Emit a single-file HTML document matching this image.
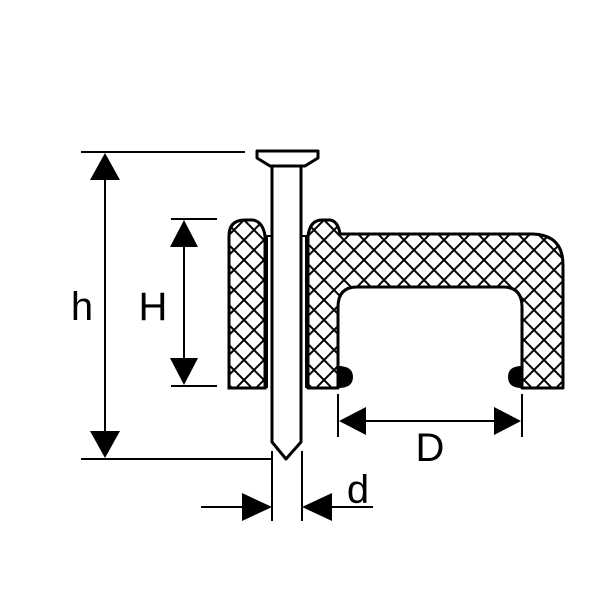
<!DOCTYPE html>
<html><head><meta charset="utf-8"><style>
html,body{margin:0;padding:0;background:#fff;}
svg{display:block;}
text{font-family:"Liberation Sans",sans-serif;fill:#000;}
</style></head><body>
<svg width="611" height="600" viewBox="0 0 611 600" xmlns="http://www.w3.org/2000/svg">
<defs>
<pattern id="hx" patternUnits="userSpaceOnUse" width="20" height="20" x="4" y="0">
<path d="M0,0 L20,20 M20,0 L0,20" stroke="#000" stroke-width="2"/>
</pattern>
</defs>
<g stroke="#000" stroke-width="2" fill="none">
<line x1="81" y1="152" x2="245" y2="152"/>
<line x1="81" y1="459" x2="272" y2="459"/>
<line x1="105" y1="175" x2="105" y2="435"/>
<line x1="171" y1="219" x2="217" y2="219"/>
<line x1="171" y1="386" x2="217" y2="386"/>
<line x1="184" y1="240" x2="184" y2="365"/>
<line x1="338" y1="394" x2="338" y2="437"/>
<line x1="522" y1="394" x2="522" y2="437"/>
<line x1="360" y1="421" x2="500" y2="421"/>
<line x1="272" y1="451" x2="272" y2="521"/>
<line x1="302" y1="451" x2="302" y2="521"/>
<line x1="201" y1="507" x2="245" y2="507"/>
<line x1="330" y1="507" x2="373" y2="507"/>
</g>
<g fill="#000">
<polygon points="105,153 90,180 120,180"/>
<polygon points="105,458 90,431 120,431"/>
<polygon points="184,220 170,247 198,247"/>
<polygon points="184,385 170,358 198,358"/>
<polygon points="339,421 366,407 366,435"/>
<polygon points="521,421 494,407 494,435"/>
<polygon points="272,507 242,493 242,521"/>
<polygon points="302,507 332,493 332,521"/>
</g>
<path d="M229,388 V236 Q229,220 245,220 H253 Q263,222 265,236 V388 Z" fill="url(#hx)" stroke="#000" stroke-width="3"/>
<path d="M308,388 V236 Q310,220 322,220 H330 Q338,221 340,234 H533 Q563,235 563,265 V388 H522 V307 Q522,287 503,287 H357 Q338,287 338,307 V388 Z" fill="url(#hx)" stroke="#000" stroke-width="3" stroke-linejoin="round"/>
<path d="M338,366 Q353,366 353,377 Q353,388 338,388 Z" fill="#000"/>
<path d="M522,366 Q508,366 508,377 Q508,388 522,388 Z" fill="#000"/>
<g stroke="#000" stroke-width="2" fill="none">
<line x1="267" y1="236" x2="267" y2="388"/>
<line x1="306" y1="236" x2="306" y2="388"/>
<line x1="265" y1="236" x2="272" y2="236"/>
<line x1="301" y1="236" x2="308" y2="236"/>
</g>
<path d="M272,166 V442 L286,459 L301,442 V166" fill="#fff" stroke="#000" stroke-width="3" stroke-linejoin="round"/>
<path d="M257,151 H318 L318,158 L305,166 H270 L257,158 Z" fill="#fff" stroke="#000" stroke-width="3" stroke-linejoin="round"/>
<text x="82" y="320" font-size="40" text-anchor="middle">h</text>
<text x="153" y="320" font-size="40" text-anchor="middle">H</text>
<text x="430" y="461" font-size="40" text-anchor="middle">D</text>
<text x="358" y="503" font-size="40" text-anchor="middle">d</text>
</svg>
</body></html>
